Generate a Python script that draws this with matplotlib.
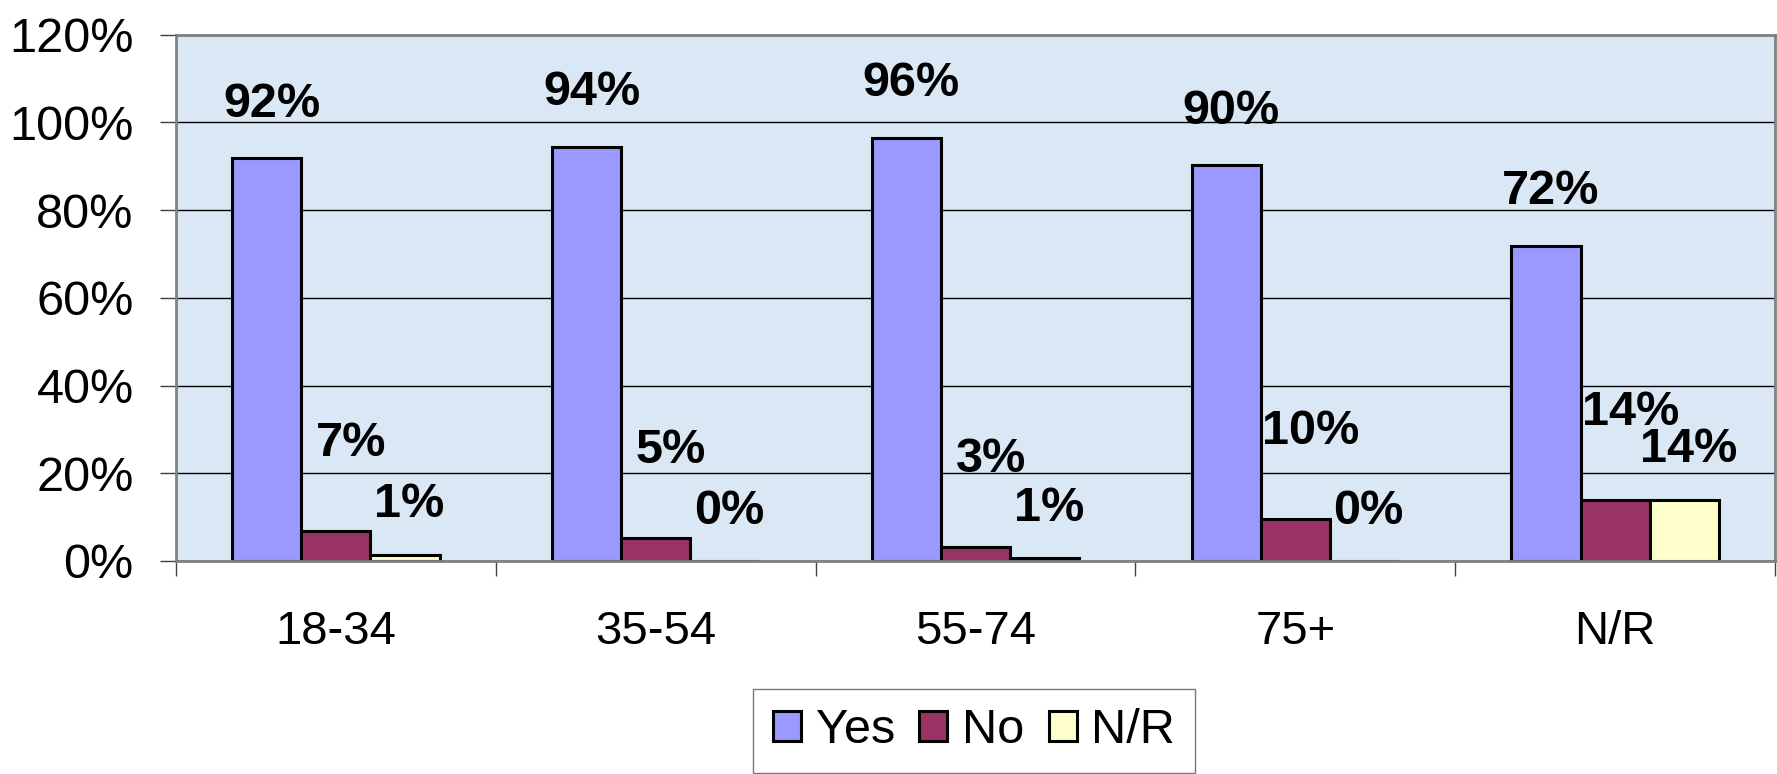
"""Grouped bar chart: Yes / No / N/R share by age group."""

import numpy as np
import matplotlib
matplotlib.use("Agg")
import matplotlib.pyplot as plt
from matplotlib.patches import Patch

plt.rcParams["font.family"] = ["Liberation Sans", "DejaVu Sans"]

# ===================================================
# Data
# ===================================================
age_groups = ["18-34", "35-54", "55-74", "75+", "N/R"]
series_names = ["Yes", "No", "N/R"]
yes_pct = [91.8, 94.4, 96.4, 90.2, 71.8]
no_pct = [6.8, 5.2, 3.3, 9.6, 14.0]
nr_pct = [1.4, 0.0, 0.6, 0.0, 14.0]
y_ticks = [0, 20, 40, 60, 80, 100, 120]

colors = ["#9999ff", "#993366", "#ffffcc"]
# label offsets per series (points): dx, dy above bar top
label_offsets = [(3.5, 30), (11, 54), (3, 27)]

fig = plt.figure(figsize=(17.77, 7.74), dpi=100)
ax = fig.add_axes([176 / 1777, 1 - 561 / 774, (1775 - 176) / 1777, (561 - 34.6) / 774])
ax.set_facecolor("#dae7f5")

x = np.arange(len(age_groups))
width = 0.216
all_series = [yes_pct, no_pct, nr_pct]

for i, (vals, color, (dx, dy)) in enumerate(zip(all_series, colors, label_offsets)):
    xs = x + (i - 1) * width
    ax.bar(xs, vals, width, color=color, edgecolor="black", linewidth=2.2, zorder=3)
    for xv, v in zip(xs, vals):
        ax.annotate(f"{round(v)}%", (xv, v), xytext=(dx, dy), textcoords="offset points",
                    ha="center", va="baseline", fontsize=35, fontweight="bold", zorder=4)

ax.set_xlim(-0.5, len(age_groups) - 0.5)
ax.set_ylim(0, 120)

# y axis
ax.set_yticks(y_ticks)
ax.set_yticklabels([f"{t}%" for t in y_ticks])
ax.tick_params(axis="y", which="major", length=11.5, width=1, color="#404040",
               labelsize=35, pad=19)
ax.yaxis.grid(True, color="black", linewidth=1)
ax.set_axisbelow(True)

# x axis: labels at centres, tick marks at category boundaries
ax.set_xticks(x)
ax.set_xticklabels(age_groups)
ax.tick_params(axis="x", which="major", length=0, labelsize=34, pad=35)
ax.set_xticks(np.arange(len(age_groups) + 1) - 0.5, minor=True)
ax.tick_params(axis="x", which="minor", length=11, width=1, color="#404040")

for side in ["left", "top", "right", "bottom"]:
    ax.spines[side].set_color("#808080")
    ax.spines[side].set_linewidth(2)
    ax.spines[side].set_zorder(5)

handles = [Patch(facecolor=c, edgecolor="black", linewidth=2.2) for c in colors]
leg = fig.legend(handles, series_names, loc="upper center", bbox_to_anchor=(974 / 1777, 1 - 689 / 774),
                 ncol=3, fontsize=35, frameon=True, fancybox=False, edgecolor="#555555",
                 handlelength=0.58, handleheight=0.58, handletextpad=0.3, columnspacing=0.5,
                 borderpad=0.4, borderaxespad=0)
leg.get_frame().set_linewidth(1)

fig.savefig("out.png", dpi=100)
plt.close(fig)
